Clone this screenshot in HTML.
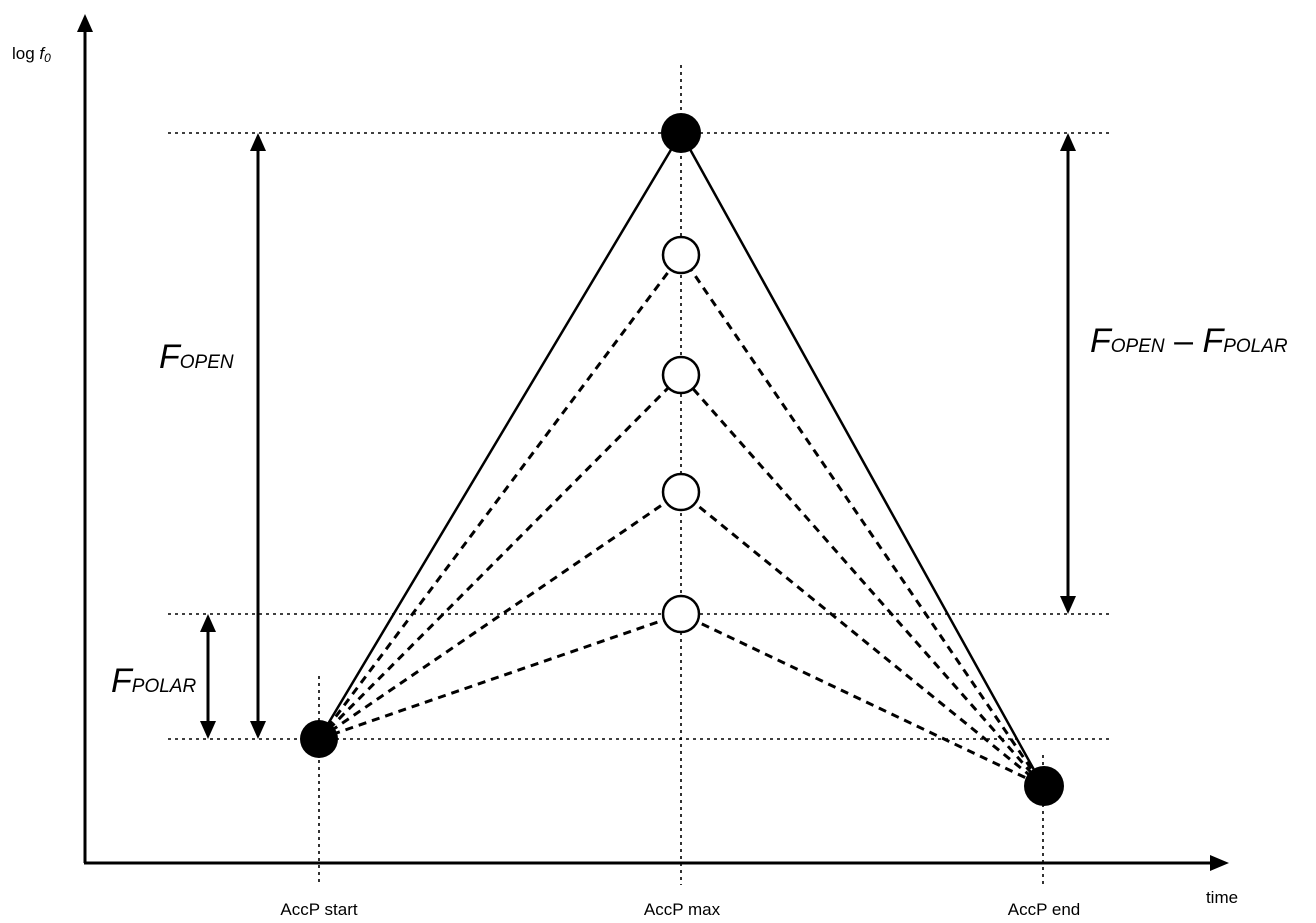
<!DOCTYPE html>
<html><head><meta charset="utf-8"><style>
html,body{margin:0;padding:0;background:#fff;}
svg{display:block;font-family:"Liberation Sans",sans-serif;}
</style></head><body>
<svg width="1316" height="923" viewBox="0 0 1316 923" xmlns="http://www.w3.org/2000/svg">
<!-- axes -->
<line x1="85" y1="863" x2="85" y2="30" stroke="#000" stroke-width="3"/>
<path d="M77,32 L85,14 L93,32 z" fill="#000"/>
<line x1="84" y1="863" x2="1212" y2="863" stroke="#000" stroke-width="3"/>
<path d="M1210,855 L1229,863 L1210,871 z" fill="#000"/>
<!-- dotted guides -->
<g stroke="#000" stroke-width="1.6" stroke-dasharray="3,4" fill="none">
<line x1="168" y1="133" x2="1112" y2="133"/>
<line x1="168" y1="614" x2="1112" y2="614"/>
<line x1="168" y1="739" x2="1112" y2="739"/>
<line x1="319" y1="676" x2="319" y2="885"/>
<line x1="681" y1="65" x2="681" y2="885"/>
<line x1="1043" y1="755" x2="1043" y2="885"/>
</g>
<!-- dashed lines -->
<g stroke="#000" stroke-width="3" stroke-dasharray="8,6" fill="none">
<polyline points="319,739 681,255 1043,786"/>
<polyline points="319,739 681,375 1043,786"/>
<polyline points="319,739 681,492 1043,786"/>
<polyline points="319,739 681,614 1043,786"/>
</g>
<!-- solid lines -->
<polyline points="319,739 681,133 1043,786" stroke="#000" stroke-width="2.5" fill="none"/>
<!-- circles -->
<g fill="#fff" stroke="#000" stroke-width="2.5">
<circle cx="681" cy="255" r="18"/>
<circle cx="681" cy="375" r="18"/>
<circle cx="681" cy="492" r="18"/>
<circle cx="681" cy="614" r="18"/>
</g>
<circle cx="681" cy="133" r="20" fill="#000"/>
<circle cx="319" cy="739" r="19" fill="#000"/>
<circle cx="1044" cy="786" r="20" fill="#000"/>
<!-- double arrows -->
<g stroke="#000" stroke-width="3">
<line x1="258" y1="150" x2="258" y2="722"/>
<line x1="208" y1="630" x2="208" y2="722"/>
<line x1="1068" y1="150" x2="1068" y2="598"/>
</g>
<g fill="#000">
<path d="M250,151 L258,133 L266,151 z"/><path d="M250,721 L258,739 L266,721 z"/>
<path d="M200,632 L208,614 L216,632 z"/><path d="M200,721 L208,739 L216,721 z"/>
<path d="M1060,151 L1068,133 L1076,151 z"/><path d="M1060,596 L1068,614 L1076,596 z"/>
</g>
<!-- labels -->
<text x="12" y="59" font-size="17">log <tspan font-style="italic">f</tspan><tspan font-style="italic" font-size="12" dy="3">0</tspan></text>
<text x="159" y="368" font-size="34" font-style="italic">F<tspan font-size="19">OPEN</tspan></text>
<text x="111" y="692" font-size="34" font-style="italic">F<tspan font-size="19">POLAR</tspan></text>
<text x="1090" y="352" font-size="34" font-style="italic">F<tspan font-size="19">OPEN</tspan><tspan font-style="normal"> – </tspan>F<tspan font-size="19">POLAR</tspan></text>
<g font-size="17" text-anchor="middle">
<text x="319" y="915">AccP start</text>
<text x="682" y="915">AccP max</text>
<text x="1044" y="915">AccP end</text>
<text x="1222" y="903">time</text>
</g>
</svg>
</body></html>
